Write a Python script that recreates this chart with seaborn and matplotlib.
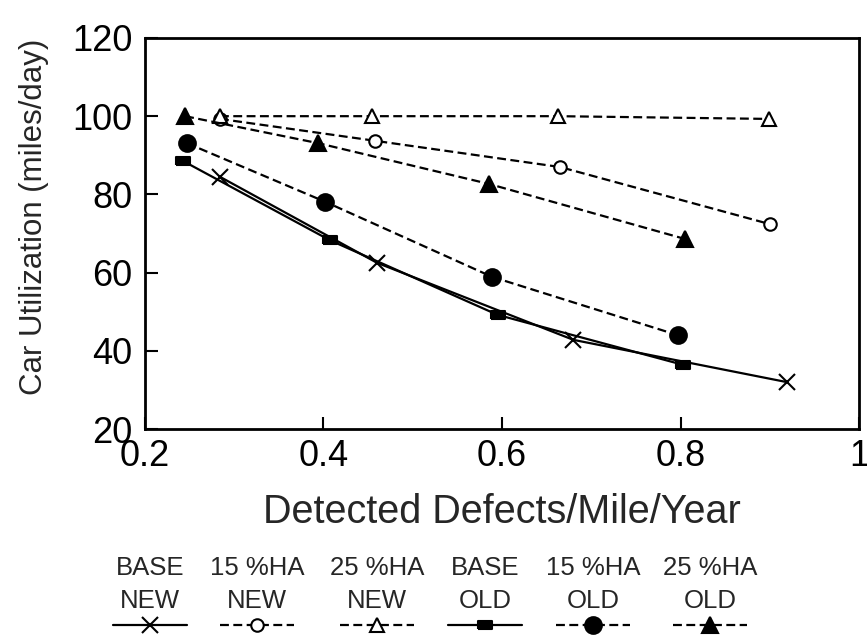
import matplotlib
matplotlib.use('Agg')
import matplotlib.pyplot as plt
import seaborn as sns
import pandas as pd

sns.set_style('ticks')
plt.rcParams['font.family'] = ['Liberation Sans', 'DejaVu Sans']

# data
x_base_new = [0.284, 0.460, 0.680, 0.919]
y_base_new = [84.5, 62.5, 42.8, 32.0]
x_15_new = [0.284, 0.458, 0.665, 0.900]
y_15_new = [99.3, 93.7, 87.0, 72.4]
x_25_new = [0.284, 0.454, 0.663, 0.899]
y_25_new = [100.0, 100.0, 100.0, 99.3]
x_base_old = [0.243, 0.407, 0.595, 0.803]
y_base_old = [88.5, 68.3, 49.2, 36.4]
x_15_old = [0.247, 0.402, 0.589, 0.797]
y_15_old = [93.1, 78.1, 58.9, 44.0]
x_25_old = [0.245, 0.394, 0.585, 0.805]
y_25_old = [100.0, 93.1, 82.7, 68.6]

labels = ['BASE\nNEW', '15 %HA\nNEW', '25 %HA\nNEW', 'BASE\nOLD', '15 %HA\nOLD', '25 %HA\nOLD']
xticks = [0.2, 0.4, 0.6, 0.8, 1.0]
xticklabels = ['0.2', '0.4', '0.6', '0.8', '1']
yticks = [20, 40, 60, 80, 100, 120]

series = [(x_base_new, y_base_new), (x_15_new, y_15_new), (x_25_new, y_25_new),
          (x_base_old, y_base_old), (x_15_old, y_15_old), (x_25_old, y_25_old)]
dash = (0, (4, 2))
rect = [(-1, -0.6), (1, -0.6), (1, 0.6), (-1, 0.6), (-1, -0.6)]  # flat square marker
# marker, markersize, face, linestyle
styles = [('x', 11, 'black', '-'),
          ('o', 9, 'white', dash),
          ('^', 10, 'white', dash),
          (rect, 10, 'black', '-'),
          ('o', 12, 'black', dash),
          ('^', 11.5, 'black', dash)]

fig = plt.figure(figsize=(8.67, 6.35), dpi=100)
ax = fig.add_axes([0.1672, 0.3244, 0.8236, 0.6158])

handles = []
for (xs, ys), (m, ms, fc, ls), lab in zip(series, styles, labels):
    df = pd.DataFrame({'x': xs, 'y': ys})
    sns.lineplot(data=df, x='x', y='y', ax=ax, color='black', marker=m, markersize=ms,
                 markerfacecolor=fc, markeredgecolor='black', markeredgewidth=1.5,
                 linestyle=ls, linewidth=1.6, sort=False, estimator=None)
    handles.append(ax.lines[-1])

ax.set_xlim(0.2, 1.0)
ax.set_ylim(20, 120)
ax.set_xticks(xticks)
ax.set_xticklabels(xticklabels)
ax.set_yticks(yticks)
ax.tick_params(direction='in', length=9, width=1.5, labelsize=26, colors='black')
ax.tick_params(axis='y', pad=9)
ax.tick_params(axis='x', pad=7)
for s in ax.spines.values():
    s.set_linewidth(2)
    s.set_color('black')
ax.set_xlabel('Detected Defects/Mile/Year', fontsize=28.5, labelpad=14)
ax.set_ylabel('Car Utilization (miles/day)', fontsize=22.5)
ax.yaxis.set_label_coords(-0.134, 0.542)

# legend: one small legend per column, text as the title above the line sample
centers = [150, 257, 377, 485, 593, 710]
for h, lab, cx in zip(handles, labels, centers):
    leg = fig.legend(handles=[h], labels=[''], title=lab, loc='upper center',
                     bbox_to_anchor=(cx / 867, 1 - 556 / 635), frameon=False,
                     handlelength=2.9, handleheight=0.3, handletextpad=0,
                     borderpad=0, borderaxespad=0, labelspacing=0.0,
                     title_fontsize=18.5, fontsize=18.5)
    leg.get_title().set_multialignment('center')
    leg.get_title().set_linespacing(1.5)

fig.savefig('out.png', dpi=100)
